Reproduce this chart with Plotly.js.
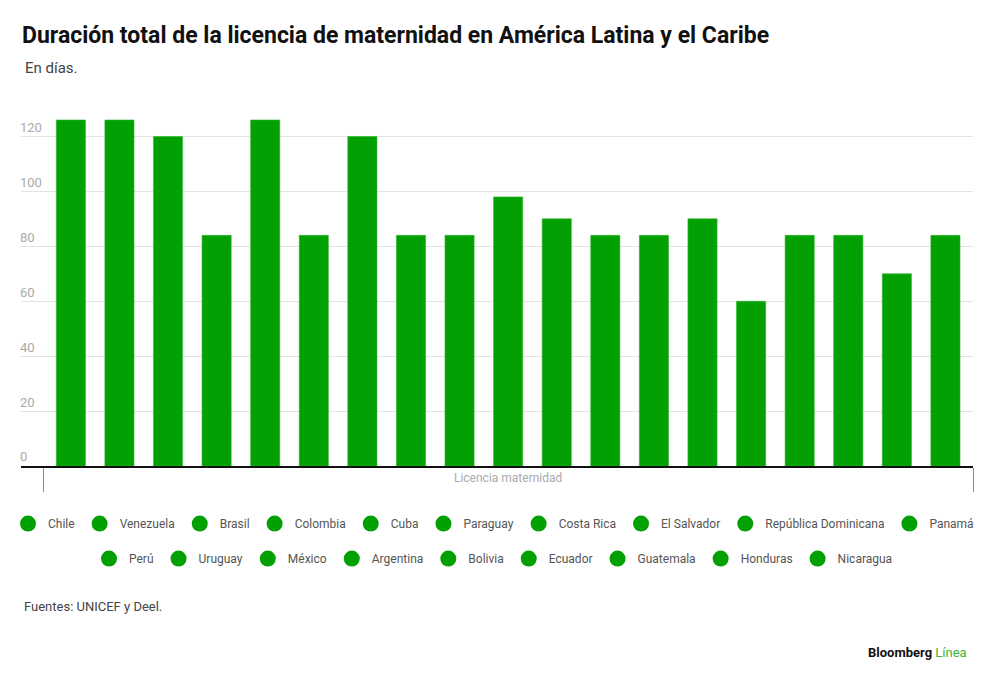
<!DOCTYPE html>
<html>
<head>
<meta charset="utf-8">
<script src="https://cdn.plot.ly/plotly-3.0.1.min.js"></script>
<style>
  html, body { margin: 0; padding: 0; background: #fff; }
  #chart { width: 1000px; height: 685px; }
</style>
</head>
<body>
<div id="chart"></div>
<script>
// ---- Data ----
const categories = ["Licencia maternidad"];
const countries = ["Chile", "Venezuela", "Brasil", "Colombia", "Cuba", "Paraguay", "Costa Rica",
  "El Salvador", "República Dominicana", "Panamá", "Perú", "Uruguay", "México", "Argentina",
  "Bolivia", "Ecuador", "Guatemala", "Honduras", "Nicaragua"];
const days = [126, 126, 120, 84, 126, 84, 120, 84, 84, 98, 90, 84, 84, 90, 60, 84, 84, 70, 84];
const yTicks = [0, 20, 40, 60, 80, 100, 120];
const firstRowCount = 10;

const green = "#02a002";
const font = "Roboto, 'Liberation Sans', Arial, sans-serif";

// category positions on the x axis (index of each category)
const catPos = categories.map((c, i) => i);
// category band boundaries
const catBounds = [catPos[0] - 0.5].concat(catPos.map(p => p + 0.5));

const traces = [];
countries.forEach((c, i) => {
  traces.push({
    type: "bar",
    name: c,
    x: [catPos[0]],
    y: [days[i]],
    marker: { color: green, line: { color: "#2db52d", width: 0.6 } },
    showlegend: false,
    legendgroup: c,
    hoverinfo: "name+y"
  });
});
// legend entries (circles)
countries.forEach((c, i) => {
  traces.push({
    type: "scatter",
    mode: "markers",
    name: c,
    x: [catPos[0]],
    y: [null],
    marker: { color: green, size: 16, symbol: "circle" },
    legendgroup: c,
    legend: i < firstRowCount ? "legend" : "legend2",
    hoverinfo: "skip"
  });
});

const W = 1000, H = 685;
const plotL = 21, plotR = 973, zeroY = 466.3, yMax = 130, pxPerUnit = 2.75;
const plotTop = zeroY - yMax * pxPerUnit;
const plotH = zeroY - plotTop;
const py = (pix) => (zeroY - pix) / plotH;
const px = (pix) => pix / W;
const bandLeft = 43.3;
const xr0 = catBounds[0] - (bandLeft - plotL) / (plotR - bandLeft);

const legendFont = { family: font, size: 12, color: "#555" };

const layout = {
  width: W,
  height: H,
  margin: { l: 0, r: 0, t: plotTop, b: H - zeroY, pad: 0, autoexpand: false },
  paper_bgcolor: "#fff",
  plot_bgcolor: "#fff",
  font: { family: font },
  title: {
    text: "<b>Duración total de la licencia de maternidad en América Latina y el Caribe</b>",
    font: { family: font, size: 23, color: "#111" },
    xref: "container", yref: "container",
    x: 0.022, xanchor: "left",
    y: 1 - 35 / H, yanchor: "middle"
  },
  barmode: "group",
  bargap: 0.007,
  bargroupgap: 0.4,
  xaxis: {
    domain: [px(plotL), px(plotR)],
    range: [xr0, catBounds[catBounds.length - 1]],
    fixedrange: true,
    showgrid: false,
    zeroline: false,
    showline: true,
    linecolor: "#111",
    linewidth: 1.5,
    tickmode: "array",
    tickvals: catPos,
    ticktext: categories,
    ticks: "",
    tickfont: { family: font, size: 12, color: "#aaa" },
    minor: {
      tickmode: "array",
      tickvals: catBounds,
      ticks: "outside",
      ticklen: 24,
      tickwidth: 1,
      tickcolor: "#888",
      showgrid: false
    }
  },
  yaxis: {
    range: [0, yMax],
    fixedrange: true,
    tickvals: yTicks,
    ticktext: yTicks.map(String),
    showgrid: true,
    gridcolor: "#e3e3e3",
    gridwidth: 1,
    zeroline: false,
    showline: false,
    ticks: "",
    ticklabelposition: "inside top",
    ticklabelstandoff: -4,
    tickfont: { family: font, size: 13, color: "#aaa" }
  },
  legend: {
    orientation: "h",
    x: px(493.5), xanchor: "center",
    y: py(524), yanchor: "middle",
    font: legendFont,
    bgcolor: "rgba(0,0,0,0)"
  },
  legend2: {
    orientation: "h",
    x: px(493.5), xanchor: "center",
    y: py(559), yanchor: "middle",
    font: legendFont,
    bgcolor: "rgba(0,0,0,0)"
  },
  annotations: [
    {
      text: "En días.",
      xref: "paper", yref: "paper",
      x: px(23), y: py(68), xanchor: "left", yanchor: "middle",
      showarrow: false,
      font: { family: font, size: 15, color: "#444" }
    },
    {
      text: "Fuentes: UNICEF y Deel.",
      xref: "paper", yref: "paper",
      x: px(22), y: py(607), xanchor: "left", yanchor: "middle",
      showarrow: false,
      font: { family: font, size: 13, color: "#444" }
    },
    {
      text: "<b>Bloomberg</b> <span style='color:#3bb33b'>Línea</span>",
      xref: "paper", yref: "paper",
      x: px(969), y: py(653), xanchor: "right", yanchor: "middle",
      showarrow: false,
      font: { family: font, size: 13, color: "#111" }
    }
  ]
};

Plotly.newPlot("chart", traces, layout, { displayModeBar: false, staticPlot: true });
</script>
</body>
</html>
